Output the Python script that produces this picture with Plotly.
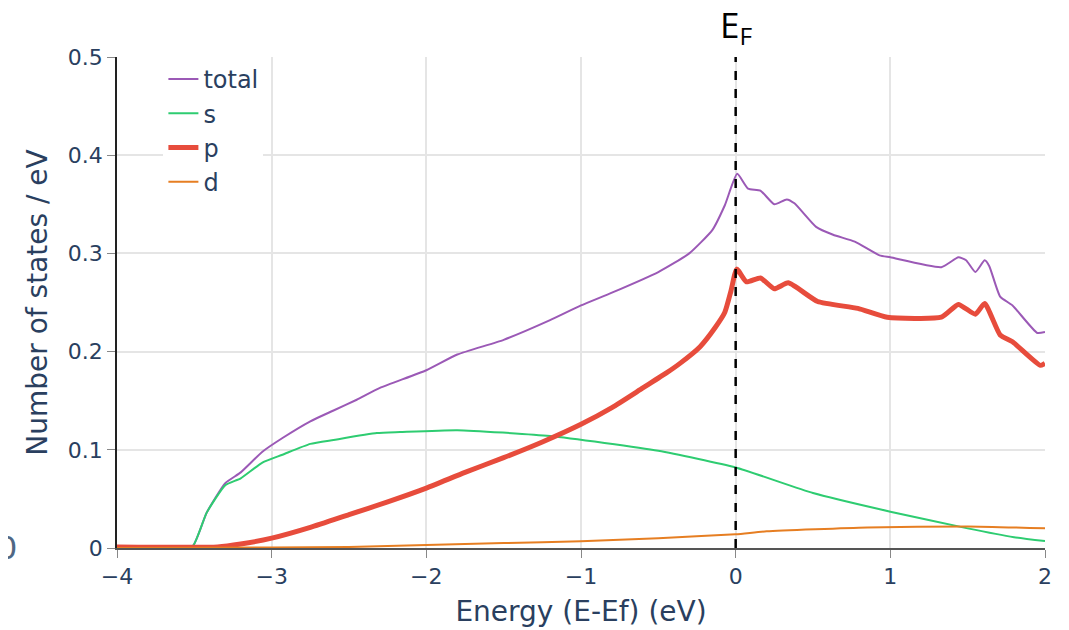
import plotly.graph_objects as go

# total DOS
total_E = [-4.0, -3.6, -3.51, -3.42, -3.30, -3.20, -3.06, -2.93, -2.75, -2.60, -2.45, -2.30, -2.0, -1.8, -1.5, -1.2, -1.0,
           -0.8, -0.5, -0.3, -0.15, -0.07, 0.01, 0.08, 0.16, 0.25, 0.33, 0.38, 0.52, 0.63, 0.77, 0.93, 1.0, 1.33,
           1.44, 1.49, 1.55, 1.61, 1.64, 1.71, 1.79, 1.95, 2.0]
total_v = [0.001, 0.001, 0.002, 0.036, 0.066, 0.077, 0.098, 0.112, 0.129, 0.140, 0.151, 0.163, 0.181, 0.197, 0.212, 0.232, 0.247,
           0.260, 0.281, 0.300, 0.324, 0.349, 0.381, 0.366, 0.364, 0.350, 0.355, 0.351, 0.327, 0.319, 0.312, 0.298, 0.296, 0.286,
           0.296, 0.293, 0.281, 0.293, 0.287, 0.256, 0.247, 0.219, 0.220]

# s-orbital
s_E = [-4.0, -3.6, -3.51, -3.42, -3.30, -3.20, -3.06, -2.93, -2.75, -2.60, -2.32, -2.17, -1.8, -1.2, -0.5, 0.0, 0.5, 1.0, 1.5, 1.8, 2.0]
s_v = [0.001, 0.001, 0.002, 0.036, 0.064, 0.071, 0.087, 0.095, 0.106, 0.110, 0.117, 0.118, 0.120, 0.114, 0.099, 0.082, 0.056, 0.037, 0.020, 0.011, 0.007]

# p-orbital
p_E = [-4.0, -3.35, -3.2, -3.0, -2.75, -2.5, -2.25, -2.0, -1.75, -1.5, -1.25, -1.0, -0.8, -0.6, -0.45, -0.36, -0.23, -0.13, -0.07, -0.03,
       0.007, 0.07, 0.16, 0.25, 0.34, 0.53, 0.79, 0.98, 1.33, 1.44, 1.55, 1.61, 1.71, 1.79, 1.97, 2.0]
p_v = [0.001, 0.001, 0.004, 0.010, 0.021, 0.034, 0.047, 0.061, 0.077, 0.092, 0.108, 0.126, 0.143, 0.163, 0.178, 0.188, 0.205, 0.225, 0.240, 0.262,
       0.284, 0.271, 0.275, 0.264, 0.270, 0.251, 0.244, 0.235, 0.235, 0.248, 0.238, 0.249, 0.217, 0.210, 0.186, 0.188]

# d-orbital
d_E = [-4.0, -3.0, -2.5, -2.0, -1.5, -1.0, -0.5, 0.0, 0.2, 0.85, 1.5, 2.0]
d_v = [0.0, 0.0005, 0.001, 0.003, 0.005, 0.007, 0.010, 0.014, 0.017, 0.021, 0.022, 0.020]

x_ticks = [-4, -3, -2, -1, 0, 1, 2]
y_ticks = [0, 0.1, 0.2, 0.3, 0.4, 0.5]
y_labels = ["0", "0.1", "0.2", "0.3", "0.4", "0.5"]

font_fam = "DejaVu Sans, Verdana, sans-serif"

fig = go.Figure()
fig.add_trace(go.Scatter(x=total_E, y=total_v, mode="lines", name="total",
                         line=dict(color="#9b59b6", width=2, shape="spline", smoothing=0.5)))
fig.add_trace(go.Scatter(x=s_E, y=s_v, mode="lines", name="s",
                         line=dict(color="#2ecc71", width=2, shape="spline", smoothing=0.5)))
fig.add_trace(go.Scatter(x=p_E, y=p_v, mode="lines", name="p",
                         line=dict(color="#e74c3c", width=5, shape="spline", smoothing=0.5)))
fig.add_trace(go.Scatter(x=d_E, y=d_v, mode="lines", name="d",
                         line=dict(color="#e67e22", width=2, shape="spline", smoothing=0.5)))

fig.add_shape(type="line", x0=0, x1=0, y0=0, y1=0.5, xref="x", yref="y",
              line=dict(color="black", width=2.5, dash="dash"))

fig.add_annotation(x=0, y=1.0, xref="x", yref="paper", yanchor="bottom", yshift=3,
                   text="E<sub>F</sub>", showarrow=False,
                   font=dict(size=35, color="black", family="Open Sans, sans-serif"))
fig.add_annotation(x=0, y=0, xref="paper", yref="paper", xanchor="center", yanchor="middle",
                   text="0", showarrow=False, xshift=-110, yshift=0,
                   font=dict(size=32, color="#506784", family=font_fam))

fig.update_layout(
    width=1069, height=630,
    paper_bgcolor="white", plot_bgcolor="white",
    margin=dict(l=109, r=32, t=49, b=90),
    font=dict(family=font_fam, size=22, color="#2a3f5f"),
    showlegend=True,
    legend=dict(x=0.05, y=1.0, xanchor="left", yanchor="top", bgcolor="white",
                font=dict(size=24, color="#2a3f5f"), tracegroupgap=0),
    xaxis=dict(range=[-4, 2], tickvals=x_ticks, showgrid=True, gridcolor="#e5e5e5", gridwidth=1.5,
               zeroline=False, showline=True, linecolor="#555", linewidth=1.5,
               ticks="outside", ticklen=8, tickcolor="#888", tickfont=dict(size=22),
               title=dict(text="Energy (E-Ef) (eV)", font=dict(size=28), standoff=13)),
    yaxis=dict(range=[0, 0.5], tickvals=y_ticks, ticktext=y_labels, showgrid=True, gridcolor="#e5e5e5", gridwidth=1.5,
               zeroline=False, showline=True, linecolor="#222", linewidth=1.5,
               ticks="outside", ticklen=8, tickcolor="#888", tickfont=dict(size=22),
               title=dict(text="Number of states / eV", font=dict(size=28), standoff=12)),
)

fig.write_html("out.html")
